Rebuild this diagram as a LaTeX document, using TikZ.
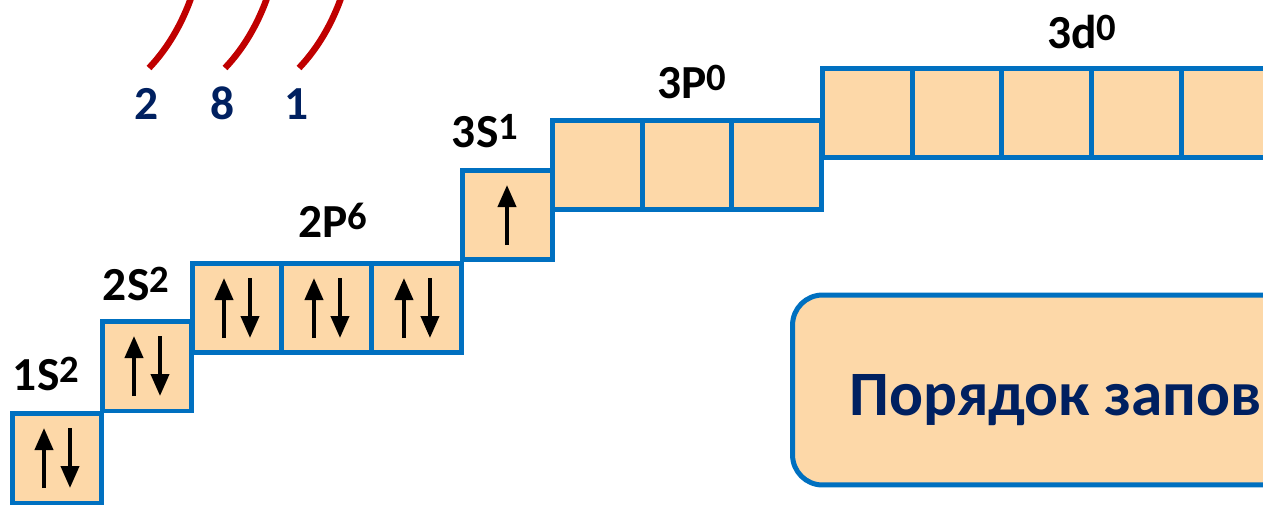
\documentclass[tikz,border=0pt]{standalone}
\usepackage{fontspec}
\setmainfont{Carlito}
\usetikzlibrary{positioning,calc,arrows.meta}

\definecolor{boxblue}{HTML}{0070C0}
\definecolor{boxfill}{HTML}{FDD8A8}
\definecolor{shellred}{HTML}{C00000}
\definecolor{navy}{HTML}{002060}

% sublevel name with its electron count raised
\newcommand{\orb}[2]{#1\raisebox{0.15cm}{\fontsize{22}{22}\selectfont\bfseries #2}}

\begin{document}
\begin{tikzpicture}[x=0.02cm, y=-0.02cm,
  orbital/.style={rectangle, draw=boxblue, fill=boxfill, line width=0.1cm,
    minimum size=1.8cm, inner sep=0pt, outer sep=0pt},
  sublabel/.style={font=\fontsize{27}{30}\selectfont\bfseries, anchor=base},
  shellcount/.style={font=\fontsize{27}{30}\selectfont\bfseries, text=navy, anchor=base},
  shell/.style={draw=shellred, line width=0.13cm},
  spin/.style={-{Triangle[length=0.44cm,width=0.36cm]}, line width=0.08cm},
  panel/.style={draw=boxblue, fill=boxfill, line width=0.1cm, rounded corners=0.6cm,
    minimum width=12.3cm, minimum height=3.8cm},
  paneltext/.style={font=\fontsize{36}{40}\selectfont\bfseries, text=navy, anchor=base west}
]
\useasboundingbox (0,0) rectangle (1263,504);
\clip (0,0) rectangle (1263,504);

% Shell arcs and electron counts
\draw[shell] (149,68) .. controls (170,46) and (185,18) .. (194,-11);
\draw[shell] (225,68) .. controls (246,46) and (261,18) .. (270,-11);
\draw[shell] (299,68) .. controls (320,46) and (335,18) .. (344,-11);
\node[shellcount] (n1) at (147,119) {2};
\node[shellcount] (n2) at (223,119) {8};
\node[shellcount] (n3) at (297,119) {1};

% Orbital boxes
\node[orbital] (s1) at (57,458) {};
\node[orbital] (s2) at (147,366) {};
\node[orbital] (p1) at (237,308) {};
\node[orbital, right=0pt of p1] (p2) {};
\node[orbital, right=0pt of p2] (p3) {};
\node[orbital] (s3) at (507,215) {};
\node[orbital] (q1) at (597,165) {};
\node[orbital, right=0pt of q1] (q2) {};
\node[orbital, right=0pt of q2] (q3) {};
\node[orbital] (d1) at (867,113) {};
\node[orbital, right=0pt of d1] (d2) {};
\node[orbital, right=0pt of d2] (d3) {};
\node[orbital, right=0pt of d3] (d4) {};
\node[orbital, right=0pt of d4] (d5) {};

% Electrons
\foreach \b in {s1,s2,p1,p2,p3} {
  \draw[spin] ($(\b)+(-13,30)$) -- ($(\b)+(-13,-30)$);
  \draw[spin] ($(\b)+(13,-30)$) -- ($(\b)+(13,30)$);
}
\draw[spin] ($(s3)+(0,30)$) -- ($(s3)+(0,-30)$);

% Sublevel labels
\node[sublabel] (l1s) at (46,390) {\orb{1S}{2}};
\node[sublabel] (l2s) at (136,300) {\orb{2S}{2}};
\node[sublabel] (l2p) at (333,237) {\orb{2P}{6}};
\node[sublabel] (l3s) at (485,147) {\orb{3S}{1}};
\node[sublabel] (l3p) at (692,98) {\orb{3P}{0}};
\node[sublabel] (l3d) at (1082,48) {\orb{3d}{0}};

% Caption panel
\node[panel] (panel) at (1100,390) {};
\node[paneltext] (caption) at (843,415) {Порядок запов};

\end{tikzpicture}
\end{document}
